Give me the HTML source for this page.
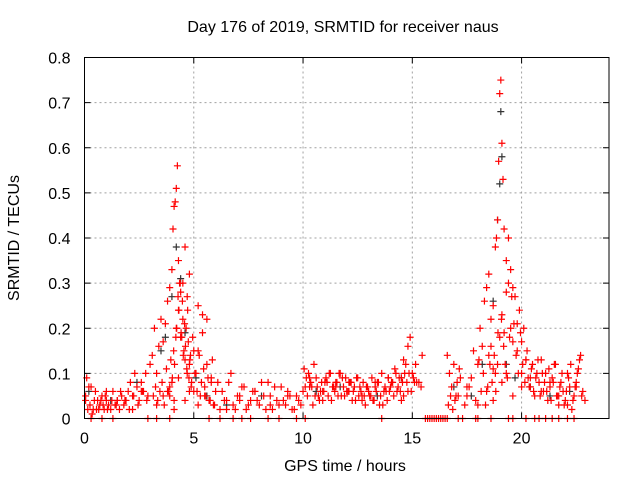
<!DOCTYPE html>
<html><head><meta charset="utf-8"><style>
html,body{margin:0;padding:0;background:#fff}
svg{display:block}
text{font-family:"Liberation Sans",sans-serif;font-size:16px;fill:#000}
</style></head><body>
<svg id="chart" width="640" height="480">
<text x="343" y="32" text-anchor="middle">Day 176 of 2019, SRMTID for receiver naus</text>
<text x="345" y="471" text-anchor="middle">GPS time / hours</text>
<text transform="translate(19,238) rotate(-90)" text-anchor="middle">SRMTID / TECUs</text>
<g id="grid"></g><g id="marks"></g><g id="axes"></g>
</svg>
<script>
const xTicks=[0,5,10,15,20];
const yTicks=[0,0.1,0.2,0.3,0.4,0.5,0.6,0.7,0.8];
const yTickLabels=["0","0.1","0.2","0.3","0.4","0.5","0.6","0.7","0.8"];
const redT=[0.05,0.15,0.25,0.35,0.45,0.55,0.7,0.8,0.9,1.0,1.1,1.2,1.3,1.4,1.5,1.6,1.7,1.8,1.9,2.0,2.1,2.2,2.3,2.4,2.5,2.6,2.7,2.8,2.9,3.0,3.1,3.2,3.3,3.4,3.5,3.6,3.7,3.8,3.9,4.0,4.05,4.1,4.15,4.2,4.25,4.3,4.35,4.4,4.45,4.5,4.55,4.6,4.65,4.7,4.75,4.8,4.85,4.9,5.0,5.1,5.2,5.3,5.4,5.5,5.6,5.7,5.8,5.9,6.0,6.2,6.4,6.6,6.8,7.0,7.2,7.4,7.6,7.8,8.0,8.2,8.4,8.6,8.8,9.0,9.2,9.4,9.6,9.8,10.0,10.2,10.4,10.6,10.8,11.0,11.2,11.4,11.6,11.8,12.0,12.2,12.4,12.6,12.8,13.0,13.2,13.4,13.6,13.8,14.0,14.2,14.4,14.6,14.7,14.8,14.9,15.0,15.2,15.4,16.6,16.7,16.8,16.9,17.0,17.2,17.4,17.6,17.8,18.0,18.1,18.2,18.3,18.4,18.5,18.6,18.7,18.8,18.85,18.9,18.95,19.0,19.05,19.1,19.15,19.2,19.3,19.4,19.5,19.6,19.7,19.8,19.9,20.0,20.1,20.2,20.3,20.4,20.5,20.6,20.7,20.8,20.9,21.0,21.1,21.2,21.3,21.4,21.5,21.6,21.7,21.8,21.9,22.0,22.1,22.2,22.3,22.4,22.5,22.6,22.7,22.8,
0.1,0.3,0.6,1.0,1.5,2.2,2.6,3.3,3.6,3.9,4.1,4.3,4.6,4.8,5.2,5.5,5.8,6.5,7.1,7.8,8.5,9.3,10.3,10.9,11.5,12.1,12.7,13.3,13.9,14.5,14.8,15.1,17.1,17.5,18.0,18.4,18.7,19.1,19.3,19.6,20.0,20.4,20.9,21.3,21.7,22.1,22.5,22.9,
3.8,3.9,4.0,4.1,4.2,4.3,4.4,4.5,4.6,4.7,4.8,5.0,5.2,5.4,5.6,18.5,18.6,18.7,18.8,18.9,19.0,19.1,19.2,19.3,19.4,19.5,19.6,19.8,20.0,20.2,
10.05,10.15,10.25,10.35,10.45,10.55,10.65,10.75,10.85,10.95,11.05,11.15,11.25,11.35,11.45,11.55,11.65,11.75,11.85,11.95,12.05,12.15,12.25,12.35,12.45,12.55,12.65,12.75,12.85,12.95,13.05,13.15,13.25,13.35,13.45,13.55,13.65,13.75,13.85,13.95,14.05,14.15,14.25,14.35,14.45,14.55,14.65,
10.1,10.3,10.5,10.7,10.9,11.1,11.3,11.5,11.7,11.9,12.1,12.3,12.5,12.7,12.9,13.1,13.3,13.5,13.7,13.9,
3.15,3.25,3.35,3.45,3.55,3.65,3.75,3.85,3.95,4.02,4.08,4.12,4.18,4.22,4.28,4.32,4.38,4.42,4.48,4.52,4.58,4.62,4.68,4.72,4.78,4.82,4.88,4.95,5.05,5.15,5.25,5.35,5.45,5.55,5.65,5.75,5.85,5.95,6.1,6.3,6.5,6.7,6.9,7.1,7.3,7.5,7.7,7.9,8.1,8.3,8.5,8.7,8.9,9.1,9.3,9.5,9.7,9.9,
0.05,0.2,0.4,0.5,0.65,0.75,0.85,0.95,1.05,1.25,1.45,1.65,1.85,2.05,2.25,2.45,2.65,2.85,
16.65,16.75,16.85,16.95,17.05,17.15,17.5,17.7,17.9,18.05,18.15,18.25,18.35,18.45,18.55,18.65,18.75,18.82,18.92,19.08,19.18,19.25,19.35,19.45,19.55,19.65,19.75,19.85,19.95,20.05,20.15,20.25,20.35,20.45,20.55,20.65,20.75,20.85,20.95,21.05,21.15,21.25,21.35,21.45,21.55,21.65,21.75,21.85,21.95,22.05,22.15,22.25,22.35,22.45,22.55,22.65,22.75,
14.1,14.3,14.5,14.6,14.75,14.85,14.95,15.05,15.15,15.3,15.45];
const redV=[0.05,0.02,0.03,0.01,0.04,0.02,0.03,0.05,0.02,0.04,0.03,0.02,0.06,0.03,0.04,0.02,0.05,0.03,0.04,0.06,0.08,0.05,0.1,0.07,0.04,0.08,0.06,0.1,0.05,0.12,0.14,0.2,0.1,0.16,0.22,0.17,0.21,0.26,0.29,0.33,0.42,0.47,0.48,0.51,0.56,0.35,0.3,0.28,0.18,0.22,0.15,0.13,0.2,0.1,0.17,0.12,0.14,0.08,0.06,0.1,0.15,0.05,0.23,0.07,0.12,0.04,0.09,0.03,0.06,0.02,0.04,0.08,0.03,0.05,0.07,0.02,0.04,0.06,0.03,0.05,0.08,0.02,0.04,0.07,0.03,0.05,0.02,0.04,0.06,0.05,0.07,0.09,0.06,0.08,0.1,0.07,0.05,0.09,0.06,0.08,0.04,0.07,0.05,0.06,0.04,0.08,0.1,0.06,0.07,0.11,0.09,0.13,0.12,0.16,0.18,0.1,0.08,0.07,0.14,0.1,0.07,0.12,0.05,0.09,0.03,0.07,0.15,0.12,0.2,0.16,0.26,0.29,0.32,0.22,0.25,0.38,0.4,0.44,0.57,0.72,0.75,0.61,0.53,0.42,0.35,0.3,0.2,0.17,0.27,0.15,0.24,0.1,0.2,0.13,0.09,0.07,0.12,0.05,0.1,0.08,0.13,0.06,0.1,0.04,0.07,0.09,0.12,0.05,0.03,0.08,0.06,0.04,0.1,0.07,0.02,0.05,0.08,0.11,0.14,0.06,0.09,0.07,0.04,0.06,
0.04,0.02,0.06,0.03,0.05,0.07,0.02,0.09,0.04,0.06,0.03,0.05,0.08,0.02,0.04,0.06,0.03,0.05,0.07,0.04,0.08,0.06,0.05,0.07,0.09,0.04,0.06,0.08,0.05,0.07,0.03,0.06,0.04,0.08,0.1,0.05,0.07,0.09,0.06,0.08,0.05,0.03,0.07,0.04,0.06,0.05,0.08,0.04,
0.2,0.24,0.18,0.3,0.38,0.27,0.32,0.15,0.25,0.19,0.22,0.14,0.16,0.11,0.1,0.12,0.18,0.23,0.19,0.28,0.4,0.33,0.29,0.21,0.17,0.13,0.11,0.09,0.1,0.08,
0.03,0.05,0.07,0.04,0.08,0.06,0.09,0.05,0.1,0.07,0.06,0.08,0.1,0.05,0.07,0.09,0.06,0.08,0.04,0.07,0.09,0.05,0.06,0.08,0.03,0.07,0.05,0.09,0.04,0.06,0.08,0.05,0.03,0.07,0.04,0.06,0.08,0.05,0.1,0.07,0.06,0.08,0.1,0.07,0.09,0.12,0.05,
0.06,0.08,0.04,0.07,0.1,0.05,0.08,0.06,0.09,0.04,0.07,0.05,0.08,0.03,0.06,0.09,0.05,0.07,0.04,0.06,
0.08,0.03,0.11,0.06,0.13,0.09,0.15,0.12,0.18,0.2,0.27,0.24,0.3,0.19,0.26,0.14,0.21,0.16,0.11,0.24,0.09,0.13,0.07,0.18,0.1,0.06,0.14,0.08,0.11,0.05,0.09,0.04,0.13,0.03,0.08,0.06,0.04,0.1,0.02,0.05,0.07,0.03,0.06,0.04,0.08,0.02,0.05,0.07,0.03,0.04,0.06,0.02,0.05,0.03,0.04,0.07,0.02,0.06,
0.02,0.04,0.03,0.05,0.02,0.04,0.03,0.06,0.04,0.02,0.05,0.03,0.06,0.04,0.03,0.05,0.02,0.04,
0.08,0.11,0.05,0.09,0.04,0.13,0.06,0.1,0.03,0.07,0.12,0.08,0.14,0.06,0.19,0.22,0.16,0.12,0.09,0.18,0.27,0.21,0.14,0.1,0.19,0.12,0.08,0.15,0.07,0.11,0.06,0.09,0.13,0.05,0.1,0.08,0.06,0.11,0.04,0.08,0.12,0.05,0.07,0.1,0.03,0.06,0.09,0.12,0.04,0.07,0.1,0.13,0.05,0.08,0.06,0.09,0.05,
0.08,0.1,0.06,0.09,0.12,0.08,0.14,0.11,0.06,0.1,0.07];
const zeroT=[0.3,0.8,1.3,2.9,3.3,3.9,5.7,6.2,6.8,7.2,7.6,8.4,8.9,9.7,10.1,13.6,15.6,15.8,16.0,16.2,16.4,16.6,17.3,17.9,18.6,19.6,20.2,20.6,21.1,21.7,22.1,22.4,15.7,15.9,16.1,16.3,16.5,17.1,18.0,19.4,20.8,21.4];
const blackT=[0.2,1.2,2.4,3.5,3.7,4.0,4.2,4.4,4.6,5.1,5.6,6.5,8.1,10.6,11.7,13.4,14.5,16.9,17.7,18.2,18.7,18.9,19.0,19.05,19.1,19.3,19.7,20.4,21.3,22.2];
const blackV=[0.06,0.04,0.08,0.15,0.18,0.27,0.38,0.31,0.19,0.09,0.05,0.03,0.05,0.06,0.07,0.05,0.09,0.07,0.05,0.12,0.26,0.44,0.52,0.68,0.58,0.12,0.09,0.07,0.05,0.06];
const X0=84.5,X1=609,Y0=418.5,Y1=57.5,xmax=24,ymax=0.8;
const xs=v=>X0+(X1-X0)*v/xmax, ys=v=>Y0-(Y0-Y1)*v/ymax;
const NS="http://www.w3.org/2000/svg";
function mk(tag,attrs,parent){const e=document.createElementNS(NS,tag);for(const k in attrs)e.setAttribute(k,attrs[k]);parent.appendChild(e);return e;}
const grid=document.getElementById('grid'),axes=document.getElementById('axes'),marks=document.getElementById('marks');
yTicks.forEach((t,i)=>{const y=ys(t);
 if(i>0&&i<yTicks.length-1){const g=mk('line',{x1:X0,x2:X1,y1:y,y2:y,stroke:'#a0a0a0','stroke-dasharray':'2,3'},grid);
 
 }
 const l=mk('text',{x:X0-14,y:y+6,'text-anchor':'end'},axes);l.textContent=yTickLabels[i];
 
 
 mk('line',{x1:X0,x2:X0+6,y1:y,y2:y,stroke:'#000'},axes);mk('line',{x1:X1,x2:X1-6,y1:y,y2:y,stroke:'#000'},axes);});
xTicks.forEach(t=>{const x=xs(t);
 if(t>0){const g=mk('line',{x1:x,x2:x,y1:Y0,y2:Y1,stroke:'#a0a0a0','stroke-dasharray':'2,3'},grid);
 
 }
 const l=mk('text',{x:x,y:Y0+25,'text-anchor':'middle'},axes);l.textContent=t;
 
 
 mk('line',{x1:x,x2:x,y1:Y0,y2:Y0-6,stroke:'#000'},axes);mk('line',{x1:x,x2:x,y1:Y1,y2:Y1+6,stroke:'#000'},axes);});
const frame=mk('rect',{x:X0,y:Y1,width:X1-X0,height:Y0-Y1,fill:'none',stroke:'#000'},axes);


function plus(x,y,c,name){const p=mk('path',{d:`M${x-3.5},${y}h7M${x},${y-3.5}v7`,stroke:c,'stroke-width':1.2,fill:'none'},marks);
 
 }
blackT.forEach((t,i)=>plus(xs(t),ys(blackV[i]),'#333','black-point'));
redT.forEach((t,i)=>plus(xs(t),ys(redV[i]),'#ff0000','red-point'));
zeroT.forEach(t=>plus(xs(t),ys(0),'#ff0000','zero-point'));
</script>
</body></html>
